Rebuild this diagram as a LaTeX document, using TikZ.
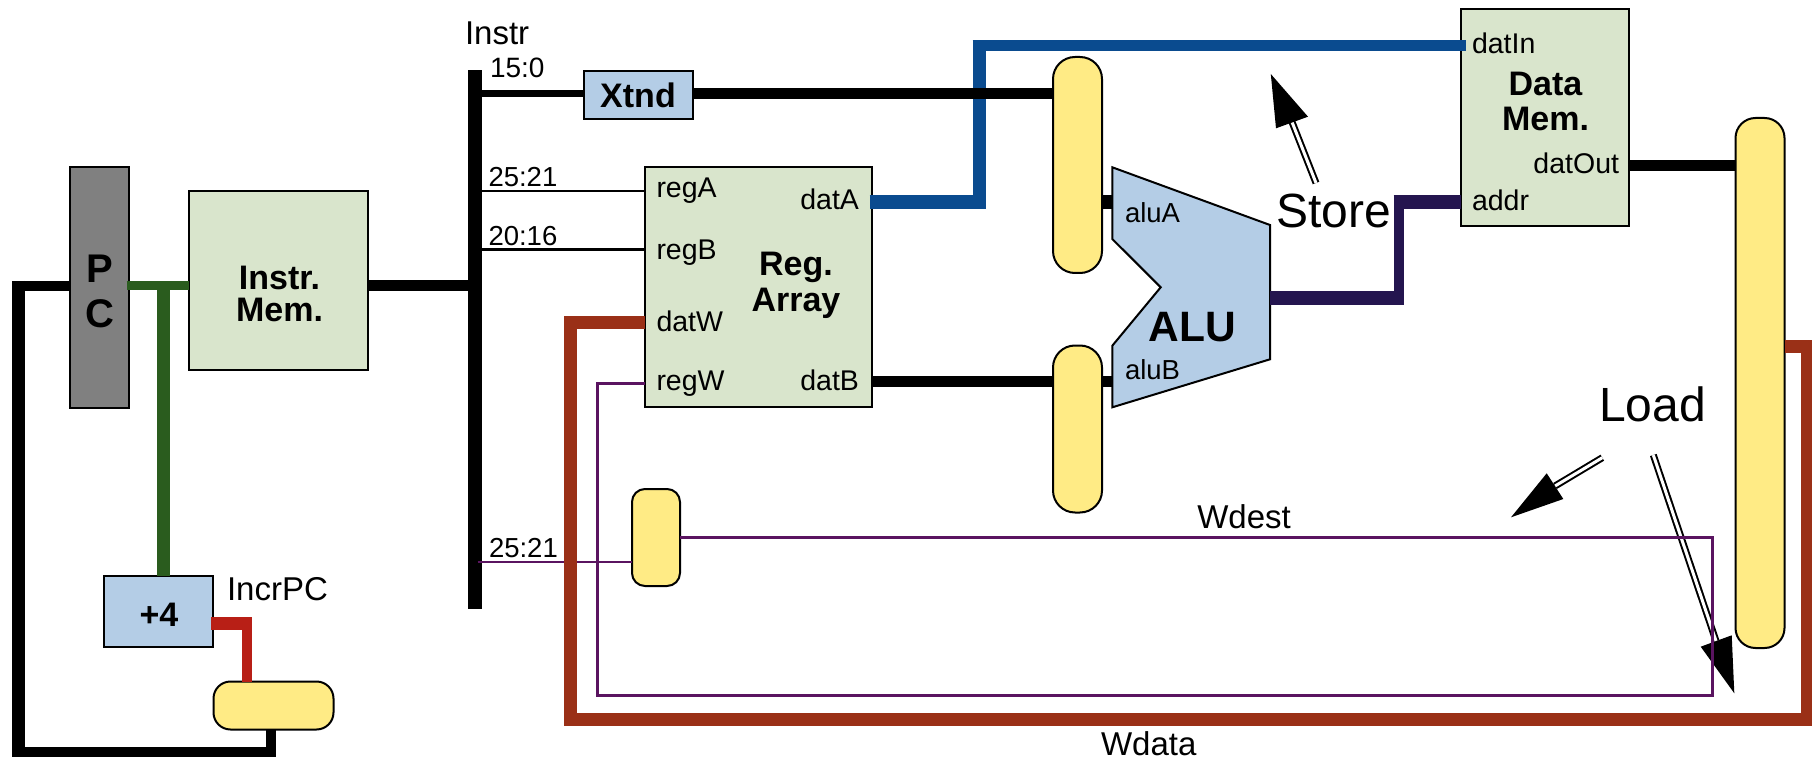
\documentclass[tikz,border=0pt]{standalone}
\usepackage{fontspec}
\setmainfont{Liberation Sans}
\usetikzlibrary{calc}
\definecolor{memfill}{HTML}{D9E5CC}
\definecolor{bluefill}{HTML}{B4CDE6}
\definecolor{yellowfill}{HTML}{FFEB85}
\definecolor{pcfill}{HTML}{808080}
\definecolor{wgreen}{HTML}{2A5C1E}
\definecolor{wred}{HTML}{B81F16}
\definecolor{wblue}{HTML}{0A4B8F}
\definecolor{wnavy}{HTML}{24154F}
\definecolor{wbrown}{HTML}{9A3017}
\definecolor{wpurple}{HTML}{5A1460}
\tikzset{
  boxnode/.style={draw=black,line width=2pt,rectangle,outer sep=0pt,inner sep=0pt,anchor=north west},
  muxnode/.style={boxnode,fill=yellowfill,rounded corners=#1},
  wire/.style={line cap=butt,line join=miter},
  thinwire/.style={wpurple,line width=2.6pt,line cap=square,line join=miter},
  portlabel/.style={inner sep=0pt,outer sep=0pt,font=\fontsize{28.5}{28.5}\selectfont,text=black},
  numlabel/.style={inner sep=0pt,outer sep=0pt,font=\fontsize{27.5}{27.5}\selectfont,text=black},
  biglabel/.style={inner sep=0pt,outer sep=0pt,font=\fontsize{48}{48}\selectfont,text=black},
  midlabel/.style={inner sep=0pt,outer sep=0pt,font=\fontsize{33}{33}\selectfont,text=black},
  boldlabel/.style={inner sep=0pt,outer sep=0pt,align=center,font=\bfseries\fontsize{34}{34}\selectfont,text=black},
  shaft/.style={double=white,draw=black,line width=2pt,double distance=3pt,line cap=butt},
  headtip/.style={fill=black,draw=none},
}
\begin{document}
\begin{tikzpicture}[x=1pt,y=-1pt]
\useasboundingbox (0,0) rectangle (1812,759);

% ---- blocks ----
\node[boxnode,fill=pcfill,minimum width=59pt,minimum height=240pt] (pc) at (69.5,167.5) {};
\node[boxnode,fill=memfill,minimum width=179pt,minimum height=179pt] (imem) at (189,191) {};
\node[boxnode,fill=bluefill,minimum width=109pt,minimum height=71pt] (inc) at (104,575.5) {};
\node[muxnode=17pt,minimum width=120pt,minimum height=48pt] (muxpc) at (213.5,681.5) {};
\node[draw=none,fill=black,inner sep=0pt,outer sep=0pt,anchor=north west,minimum width=14pt,minimum height=539pt] (bus) at (468,70) {};
\node[boxnode,fill=bluefill,minimum width=109pt,minimum height=48pt] (xtnd) at (584,71.5) {};
\node[boxnode,fill=memfill,minimum width=227pt,minimum height=239pt] (reg) at (644.5,167.5) {};
\node[muxnode=22pt,minimum width=49pt,minimum height=216pt] (muxa) at (1053,57) {};
\node[muxnode=22pt,minimum width=49pt,minimum height=167pt] (muxb) at (1053,345.5) {};
\node[muxnode=13pt,minimum width=48pt,minimum height=97pt] (muxw) at (632,489) {};
\node[boxnode,fill=memfill,minimum width=168pt,minimum height=217pt] (dmem) at (1461,9.5) {};
\node[muxnode=20pt,minimum width=49pt,minimum height=530pt] (muxd) at (1735.5,118) {};

% ALU outline
\coordinate (aluout) at (1270,298);
\coordinate (alua) at (1112.3,202);
\coordinate (alub) at (1112.3,381);
\draw[draw=black,line width=2pt,fill=bluefill,line join=miter]
  (1112.3,167.3) -- (1270,225) -- (1270,359.3) -- (1112.3,407.3) -- (1112.3,345.7)
  -- (1160.7,287.3) -- (1112.3,239) -- cycle;

% ---- thick wires ----
% PC loop
\draw[wire,black,line width=12.7pt] (18.7,280.9) -- (18.7,757);
\draw[wire,black,line width=9.7pt] (12.3,285.7) -- (pc.west |- 0,285.7);
\draw[wire,black,line width=10pt] (12.3,752) -- (275.7,752);
\draw[wire,black,line width=10pt] (muxpc.south -| 270.7,0) -- (270.7,752);
% PC to memory and incrementer
\draw[wire,wgreen,line width=9pt] ($(pc.east |- 0,285.6)+(-2,0)$) -- (imem.west |- 0,285.6);
\draw[wire,wgreen,line width=13.3pt] (163.3,285.6) -- (inc.north -| 163.3,0);
% incrementer to mux
\draw[wire,wred,line width=12.8pt] ($(inc.east |- 0,623.3)+(-2,0)$) -- (251.7,623.3);
\draw[wire,wred,line width=10pt] (246.7,617) -- (muxpc.north -| 246.7,0);
% memory to bus
\draw[wire,black,line width=10.7pt] (imem.east |- 0,285.5) -- (bus.west |- 0,285.5);
% bus branches
\draw[wire,black,line width=7pt] (bus.east |- 0,94) -- (xtnd.west |- 0,94);
\draw[wire,black,line width=2.6pt] (bus.east |- 0,191) -- (reg.west |- 0,191);
\draw[wire,black,line width=2.6pt] (bus.east |- 0,249.7) -- (reg.west |- 0,249.7);
% datA to datIn
\draw[wire,wblue,line width=14pt] ($(reg.east |- 0,202)+(-2,0)$) -- (985.4,202);
\draw[wire,wblue,line width=13pt] (979,209) -- (979,40);
\draw[wire,wblue,line width=10.7pt] (972.5,45.3) -- ($(dmem.west |- 0,45.3)+(5,0)$);
% Xtnd to mux A, datB to mux B
\draw[wire,black,line width=11pt] (xtnd.east |- 0,93.7) -- (muxa.west |- 0,93.7);
\draw[wire,black,line width=11pt] (reg.east |- 0,381) -- (muxb.west |- 0,381);
% muxes to ALU
\draw[wire,black,line width=14pt] (muxa.east |- alua) -- (alua);
\draw[wire,black,line width=11pt] (muxb.east |- alub) -- (alub);
% ALU to addr
\draw[wire,wnavy,line width=13.3pt] (aluout) -- (1404,298);
\draw[wire,wnavy,line width=10.4pt] (1398.8,304.6) -- (1398.8,195);
\draw[wire,wnavy,line width=14pt] (1393.6,202) -- (dmem.west |- 0,202);
% datOut to mux
\draw[wire,black,line width=11pt] (dmem.east |- 0,165.5) -- (muxd.west |- 0,165.5);

% ---- Store / Load arrows ----
\coordinate (storetail) at (1316,183);
\coordinate (storebase) at (1292,122);
\coordinate (storetip) at (1270.8,74);
\coordinate (storec1) at (1276,128.3);
\coordinate (storec2) at (1308,116.7);
\draw[shaft] (storetail) -- (storebase);
\fill[headtip] (storetip) -- (storec1) -- (storec2) -- cycle;
\coordinate (loadatail) at (1602.3,457.7);
\coordinate (loadabase) at (1555,486);
\coordinate (loadatip) at (1511,517.3);
\coordinate (loadac1) at (1546.7,473.3);
\coordinate (loadac2) at (1563.3,499);
\draw[shaft] (loadatail) -- (loadabase);
\fill[headtip] (loadatip) -- (loadac1) -- (loadac2) -- cycle;
\coordinate (loadbtail) at (1653.3,455);
\coordinate (loadbbase) at (1716,641);
\coordinate (loadbtip) at (1734.3,693.3);
\coordinate (loadbc1) at (1700.7,646.7);
\coordinate (loadbc2) at (1731.7,635.3);
\draw[shaft] (loadbtail) -- (loadbbase);
\fill[headtip] (loadbtip) -- (loadbc1) -- (loadbc2) -- cycle;

% ---- thin purple wires ----
\draw[thinwire] (reg.west |- 0,383.3) -- (597.5,383.3) -- (597.5,695.3) -- (1712.3,695.3) -- (1712.3,537.6) -- (muxw.east |- 0,537.6);
\draw[wire,wpurple,line width=2.6pt] (477.7,562) -- (muxw.west |- 0,562);

% ---- Wdata wire ----
\draw[wire,wbrown,line width=13pt,line join=miter] (reg.west |- 0,322) -- (570.8,322) -- (570.8,719) -- (1807,719) -- (1807,346) -- (muxd.east |- 0,346);

% ---- texts ----
\node[inner sep=0pt,outer sep=0pt,align=center,font=\bfseries\fontsize{40}{45}\selectfont] (pctxt) at (100,291) {P\\C};
\node[boldlabel,font=\bfseries\fontsize{34}{32}\selectfont] (imemtxt) at (279.5,293.5) {Instr.\\Mem.};
\node[boldlabel] (inctxt) at (159,615) {+4};
\node[midlabel,anchor=base west] (incrpc) at (227,600) {IncrPC};
\node[midlabel,anchor=base west] (instr) at (465,45) {Instr};
\node[numlabel,font=\fontsize{28}{28}\selectfont,anchor=base west] (b150) at (490,78) {15:0};
\node[numlabel,anchor=base west] (b2521a) at (488.5,187) {25:21};
\node[numlabel,anchor=base west] (b2016) at (488.5,245.7) {20:16};
\node[numlabel,anchor=base west] (b2521b) at (489,557) {25:21};
\node[boldlabel] (xtndtxt) at (638,95) {Xtnd};
\node[portlabel,anchor=base west] (lrega) at (656.5,198) {regA};
\node[portlabel,anchor=base west] (lregb) at (656.5,259.5) {regB};
\node[portlabel,anchor=base west] (ldatw) at (656.5,331.5) {datW};
\node[portlabel,anchor=base west] (lregw) at (656.5,390) {regW};
\node[portlabel,anchor=base east] (ldata) at (859,210) {datA};
\node[portlabel,anchor=base east] (ldatb) at (859,390.5) {datB};
\node[boldlabel,font=\bfseries\fontsize{34}{36}\selectfont] (regtxt) at (796,285) {Reg.\\Array};
\node[numlabel,anchor=base west] (lalua) at (1125,222.5) {aluA};
\node[numlabel,anchor=base west] (lalub) at (1125,379) {aluB};
\node[inner sep=0pt,outer sep=0pt,anchor=base,font=\bfseries\fontsize{42.5}{42.5}\selectfont] (alutxt) at (1192.5,341.7) {ALU};
\node[portlabel,anchor=base west] (ldatin) at (1472,54) {datIn};
\node[boldlabel,font=\bfseries\fontsize{34}{35}\selectfont] (dmemtxt) at (1545.5,101) {Data\\Mem.};
\node[portlabel,anchor=base east] (ldatout) at (1619,173.3) {datOut};
\node[portlabel,anchor=base west] (laddr) at (1472,211) {addr};
\node[biglabel,anchor=base west] (store) at (1276.5,228) {Store};
\node[biglabel,anchor=base west] (load) at (1599,421.7) {Load};
\node[midlabel,anchor=base west] (wdest) at (1197.3,528.3) {Wdest};
\node[midlabel,anchor=base west] (wdata) at (1101,755) {Wdata};
\end{tikzpicture}
\end{document}
